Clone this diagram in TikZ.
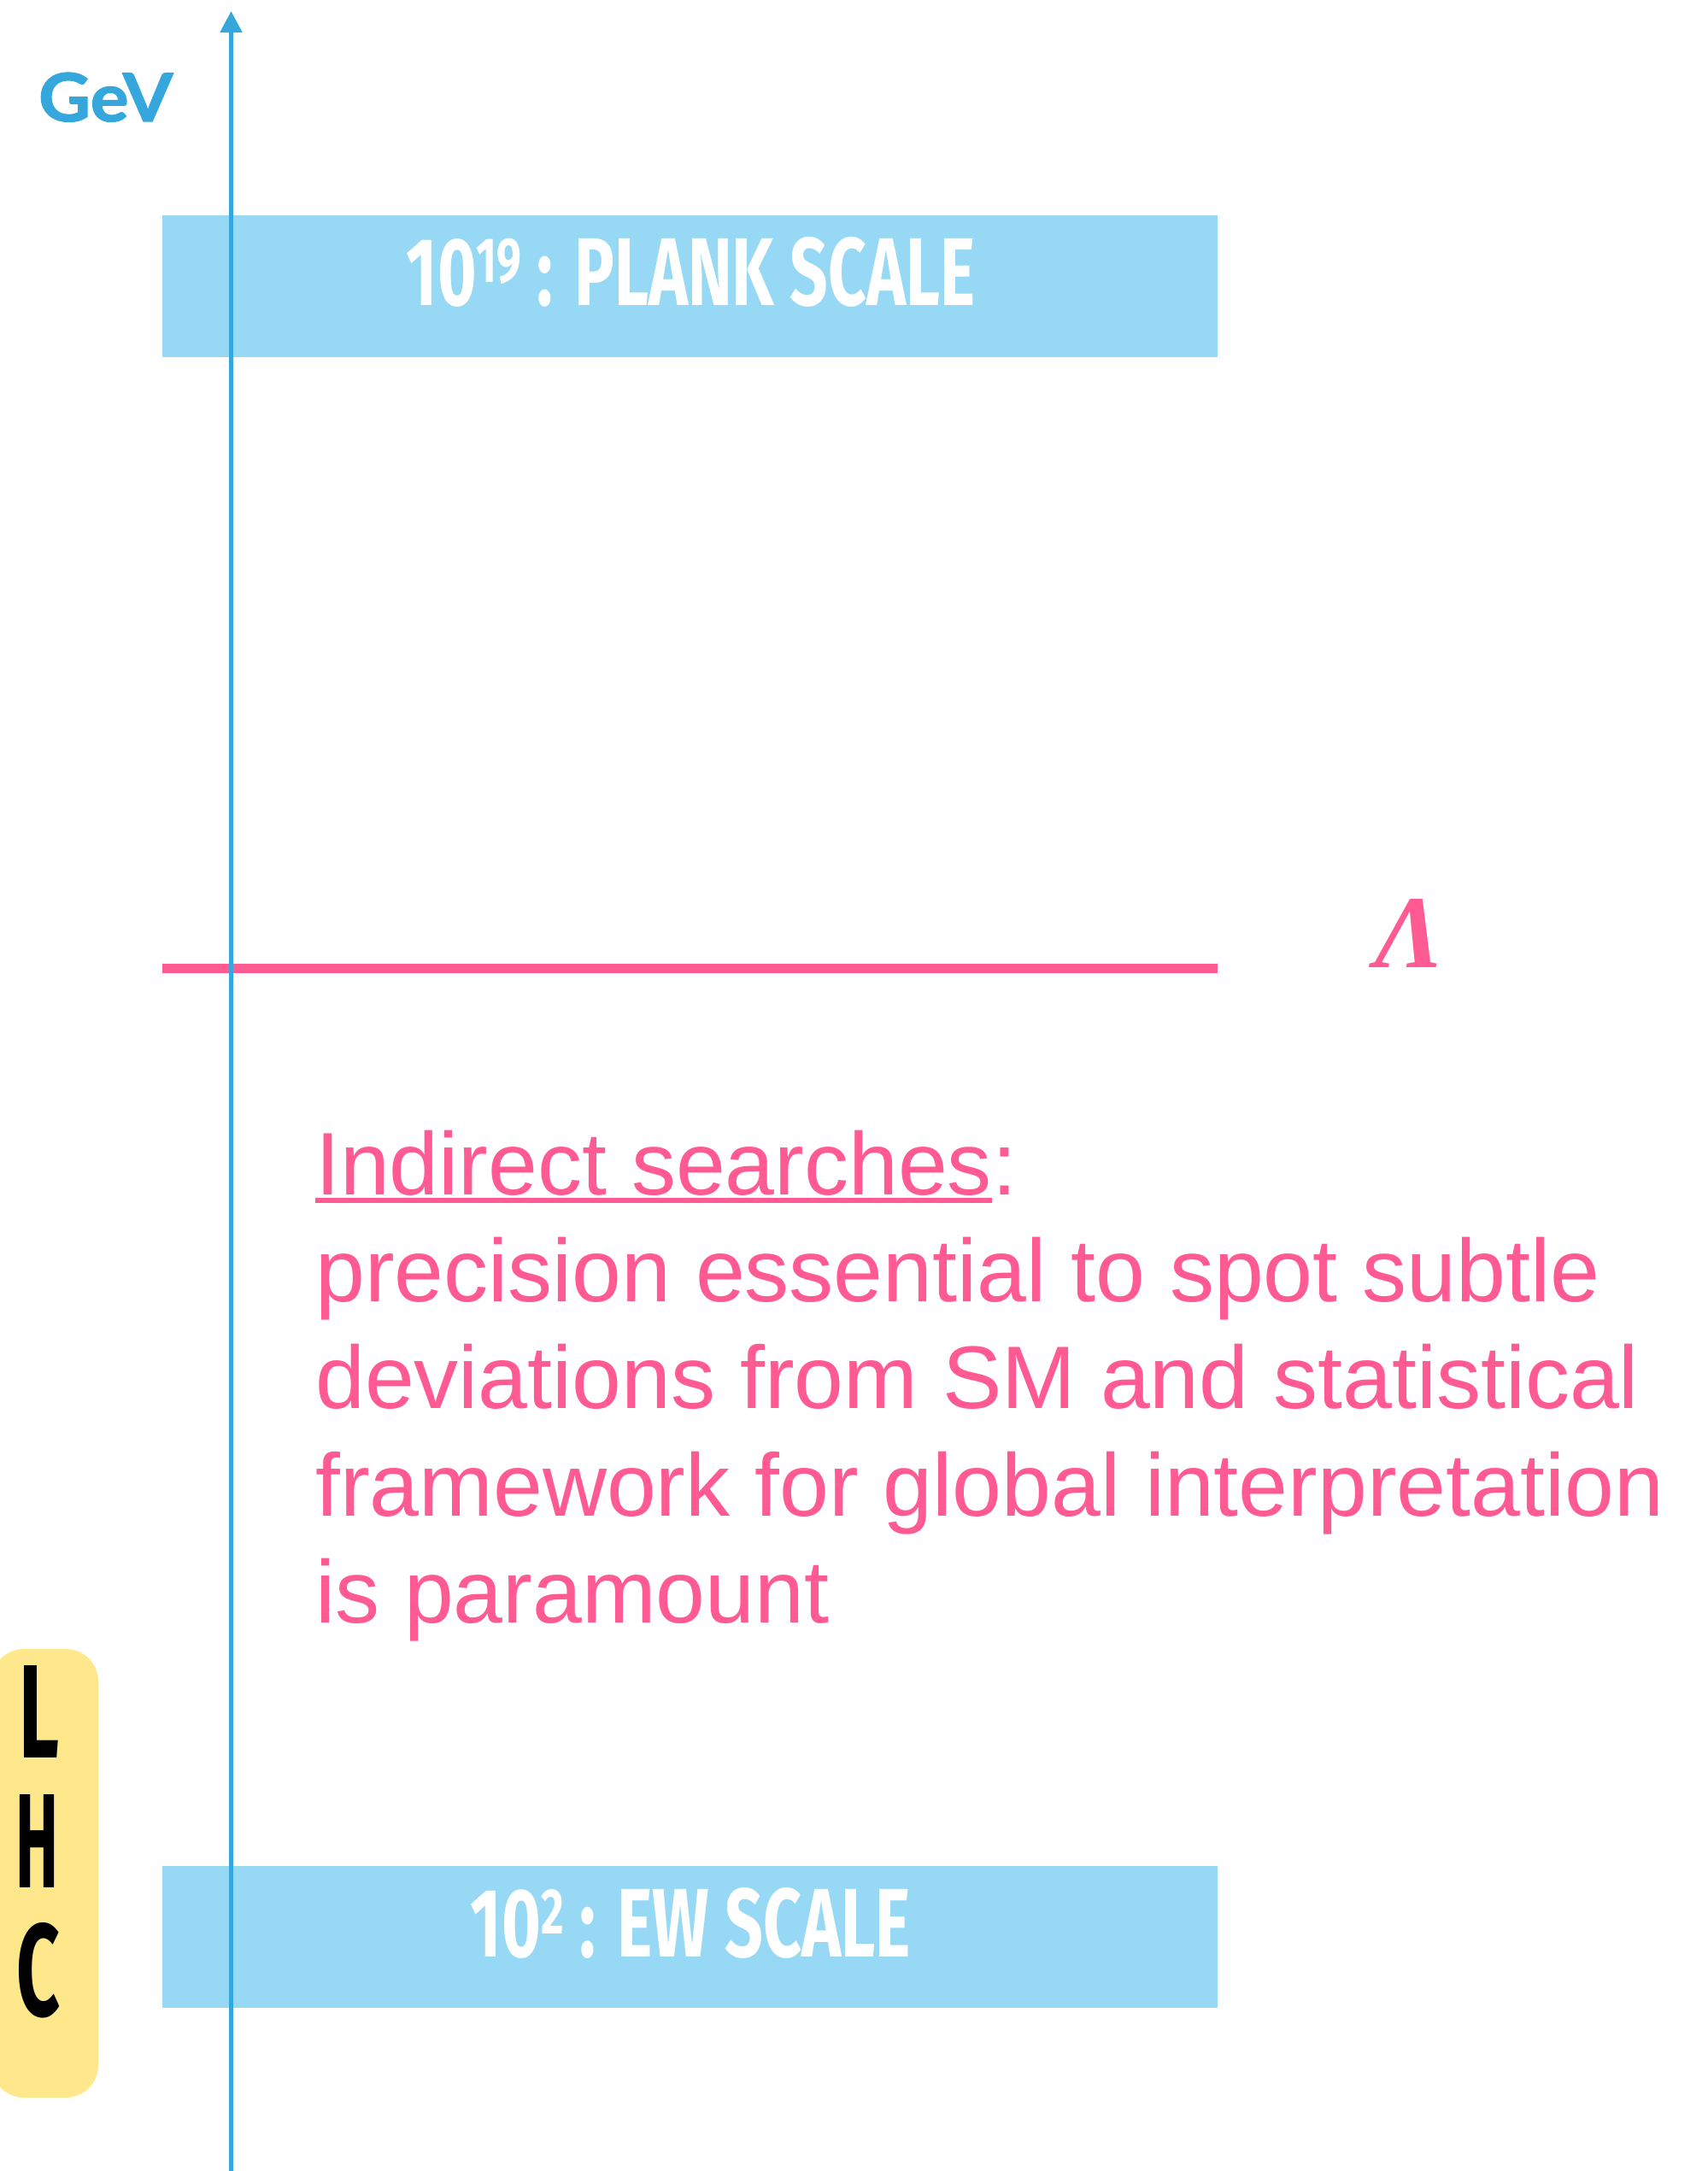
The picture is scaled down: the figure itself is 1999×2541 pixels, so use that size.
\documentclass[tikz,border=0pt]{standalone}
\usepackage{fontspec}
\usepackage{graphicx}
\setmainfont{Liberation Sans}
\newfontfamily\condfont{Fira Sans}
\newfontfamily\gevfont{Lato}
\newfontfamily\lamfont{Liberation Serif}
\usetikzlibrary{arrows.meta}
\definecolor{axisblue}{HTML}{35A7DC}
\definecolor{boxblue}{HTML}{97D9F5}
\definecolor{pinkc}{HTML}{FF5A92}
\definecolor{lhcyellow}{HTML}{FFE78C}
\newcommand{\condtext}[3]{\resizebox{#1}{#2}{\condfont\bfseries #3}}
\newcommand{\supnum}[1]{\raisebox{2.34pt}{\scalebox{0.66}{#1}}}
\tikzset{
  scalebar/.style={fill=boxblue, draw=none, minimum width=1235pt, minimum height=166pt, inner sep=0pt},
  scaletext/.style={text=white, inner sep=0pt, anchor=base},
  bodytext/.style={text=pinkc, inner sep=0pt, anchor=base west, font=\fontsize{104}{126}\selectfont},
  lhcletter/.style={text=black, inner sep=0pt, anchor=base},
}
\begin{document}
\begin{tikzpicture}[x=1pt,y=-1pt]
\useasboundingbox (0,0) rectangle (1999,2541);
% scale bars
\node[scalebar] (planck) at (807.5,334.5) {};
\node[scaletext] (plancktext) at (808.5,357) {\condtext{665pt}{80pt}{10\supnum{19} : PLANK SCALE}};
\node[scalebar] (ew) at (807.5,2267) {};
\node[scaletext] (ewtext) at (808.5,2290) {\condtext{515pt}{81pt}{10\supnum{2} : EW SCALE}};
% Lambda line
\coordinate (lamL) at (190,1133.5);
\coordinate (lamR) at (1425,1133.5);
\draw[pinkc, line width=11pt] (lamL) -- (lamR);
\node[text=pinkc, inner sep=0pt, anchor=base west] (lambda) at (1609,1132) {\resizebox{80pt}{80pt}{\lamfont\bfseries\itshape Λ}};
% LHC
\node[fill=lhcyellow, rounded corners=38pt, minimum width=125pt, minimum height=525pt, inner sep=0pt] (lhcbox) at (52.5,2192.5) {};
\node[lhcletter] (lhcL) at (46.5,2057) {\condtext{47pt}{108pt}{L}};
\node[lhcletter] (lhcH) at (44,2209) {\condtext{50pt}{109pt}{H}};
\node[lhcletter] (lhcC) at (44.5,2359) {\condtext{51pt}{109pt}{C}};
% axis
\coordinate (axbot) at (270.5,2541);
\coordinate (axtop) at (270.5,13);
\draw[axisblue, line width=5pt, -{Triangle[length=25pt,width=25pt]}] (axbot) -- (axtop);
\node[text=axisblue, inner sep=0pt, anchor=base west] (gev) at (45,142) {\resizebox{157pt}{57pt}{\gevfont\bfseries\addfontfeature{FakeBold=1.6}GeV}};
% body text
\node[bodytext] (ind) at (369,1398) {Indirect searches};
\node[bodytext] (colon) at (ind.base east) {:};
\draw[pinkc, line width=5.5pt] ([yshift=-7pt]ind.base west) -- ([yshift=-7pt]ind.base east);
\node[bodytext] (l2) at (369,1523) {precision essential to spot subtle};
\node[bodytext] (l3) at (369,1648) {deviations from SM and statistical};
\node[bodytext] (l4) at (369,1774) {framework for global interpretation};
\node[bodytext] (l5) at (369,1899) {is paramount};
\end{tikzpicture}
\end{document}
